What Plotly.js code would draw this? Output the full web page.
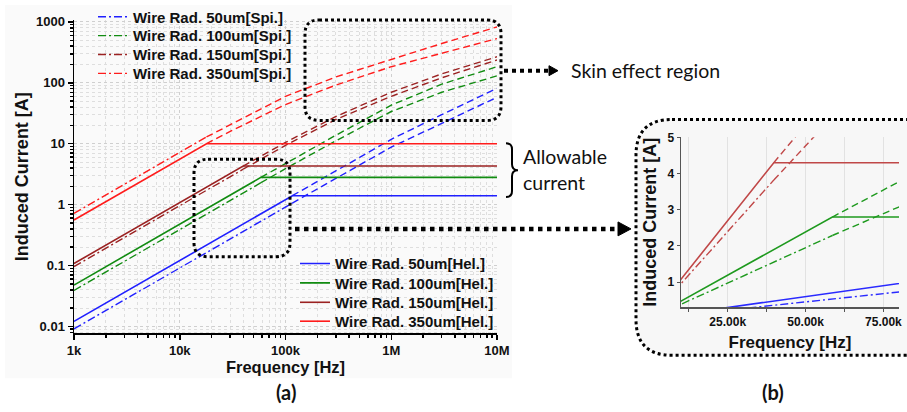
<!DOCTYPE html>
<html>
<head>
<meta charset="utf-8">
<script src="https://cdn.plot.ly/plotly-3.0.1.min.js"></script>
<style>html,body{margin:0;padding:0;background:#fff;}#chart{width:907px;height:412px;}</style>
</head>
<body>
<div id="chart"></div>
<script>
// ---------------- DATA ----------------
const radii = ['50um', '100um', '150um', '350um'];
const fStart = 1e3;            // Hz
const fEnd = 1e7;              // Hz
// induced current at 1 kHz [A]
const helStart = [0.0121, 0.0478, 0.108, 0.56];
const spiStart = [0.0091, 0.039, 0.096, 0.72];
// frequency where the helical current reaches the allowable current
const kneeFreq = [116e3, 58.6e3, 39.8e3, 17.9e3];
const allowable = [1.4, 2.8, 4.3, 10];
const spiAtKnee = [1.06, 2.29, 3.82, 12.9];
// skin-effect region (dashed) samples
const hfFreq = [30e3, 1e5, 3e5, 1e6, 3e6, 1e7];
const hel50HF  = [null, null, 3.6, 11.8, 30, 81];
const hel100HF = [null, 4.75, 13.8, 43, 95, 184];
const hel150HF = [null, 10.5, 28, 70, 140, 268];
const hel350HF = [16, 44, 92, 184, 309, 533];
const spi50HF  = [null, null, 2.7, 8.8, 21.5, 58];
const spi100HF = [null, 3.9, 11.2, 33.8, 70, 130];
const spi150HF = [null, 9.4, 25, 60, 121, 237];
const spi350HF = [20.5, 60, 125, 242, 442, 828];
// tick labels
const xTickVals = [1e3, 1e4, 1e5, 1e6, 1e7];
const xTickText = ['1k', '10k', '100k', '1M', '10M'];
const yTickVals = [0.01, 0.1, 1, 10, 100, 1000];
const yTickText = ['0.01', '0.1', '1', '10', '100', '1000'];
const inXTickVals = [12500, 25000, 37500, 50000, 62500, 75000];
const inXTickText = ['', '25.00k', '', '50.00k', '', '75.00k'];
const inYTickVals = [1, 2, 3, 4, 5];

// ---------------- STYLE ----------------
const W = 907, H = 412;
const colors = ['#2020ff', '#118c11', '#9b2222', '#ff1c1c'];
const inColors = ['#2a2aff', '#1f9a1f', '#c04848', '#ff1c1c'];
const helHF = [hel50HF, hel100HF, hel150HF, hel350HF];
const spiHF = [spi50HF, spi100HF, spi150HF, spi350HF];
const DASH = '7px,4px';
const DASHDOT = '8px,3px,2px,3px';
const FONT = 'Liberation Sans, Arial, sans-serif';
const spiLegY = [15, 34, 53, 72];
const helLegY = [263, 282.5, 302, 321];

function hfPts(arr, i, startVal) {
  const xs = [kneeFreq[i]], ys = [startVal];
  hfFreq.forEach((f, k) => { if (arr[k] !== null && f > kneeFreq[i]) { xs.push(f); ys.push(arr[k]); } });
  return {x: xs, y: ys};
}
const legName = k => (k === 0 ? 'legend' : 'legend' + (k + 1));

const traces = [];
[['x', 'y', colors, true], ['x2', 'y2', inColors, false]].forEach(([xa, ya, cols, main]) => {
  radii.forEach((r, i) => {
    const c = cols[i];
    traces.push({x: [fStart, kneeFreq[i], fEnd], y: [helStart[i], allowable[i], allowable[i]],
      mode: 'lines', line: {color: c, width: 1.6}, xaxis: xa, yaxis: ya,
      name: 'Wire Rad. ' + r + '[Hel.]', legend: legName(4 + i), showlegend: main});
    const h = hfPts(helHF[i], i, allowable[i]);
    traces.push({x: h.x, y: h.y, mode: 'lines', line: {color: c, width: 1.4, dash: DASH},
      xaxis: xa, yaxis: ya, showlegend: false});
    traces.push({x: [fStart, kneeFreq[i]], y: [spiStart[i], spiAtKnee[i]],
      mode: 'lines', line: {color: c, width: 1.4, dash: DASHDOT}, xaxis: xa, yaxis: ya,
      name: 'Wire Rad. ' + r + '[Spi.]', legend: legName(i), showlegend: main});
    const s = hfPts(spiHF[i], i, spiAtKnee[i]);
    traces.push({x: s.x, y: s.y, mode: 'lines', line: {color: c, width: 1.4, dash: DASH},
      xaxis: xa, yaxis: ya, showlegend: false});
  });
});

function P(x, y) { return (x / W).toFixed(5) + ',' + (1 - y / H).toFixed(5); }
function roundRect(x0, y0, x1, y1, r) {
  return 'M' + P(x0 + r, y0) + ' L' + P(x1 - r, y0) + ' Q' + P(x1, y0) + ' ' + P(x1, y0 + r) +
    ' L' + P(x1, y1 - r) + ' Q' + P(x1, y1) + ' ' + P(x1 - r, y1) +
    ' L' + P(x0 + r, y1) + ' Q' + P(x0, y1) + ' ' + P(x0, y1 - r) +
    ' L' + P(x0, y0 + r) + ' Q' + P(x0, y0) + ' ' + P(x0 + r, y0) + ' Z';
}
function seg(x0, y0, x1, y1, w) {
  return {type: 'line', xref: 'paper', yref: 'paper', x0: x0 / W, x1: x1 / W, y0: 1 - y0 / H, y1: 1 - y1 / H,
    line: {color: 'black', width: w, dash: 'dot'}};
}
function tri(x0, y, x1, hh) {
  return {type: 'path', xref: 'paper', yref: 'paper', path: 'M' + P(x0, y - hh) + ' L' + P(x1, y) + ' L' + P(x0, y + hh) + ' Z',
    fillcolor: 'black', line: {color: 'black', width: 1}};
}
const brace = 'M' + P(506, 142) + ' Q' + P(512, 142) + ' ' + P(512, 148) + ' L' + P(512, 163) +
  ' Q' + P(512, 169) + ' ' + P(518, 169) + ' Q' + P(512, 169) + ' ' + P(512, 175) +
  ' L' + P(512, 190) + ' Q' + P(512, 196) + ' ' + P(506, 196);

const shapes = [
  {type: 'rect', xref: 'paper', yref: 'paper', x0: 5 / W, x1: 512 / W, y0: 1 - 378 / H, y1: 1 - 3 / H,
    fillcolor: '#fafafa', line: {width: 0}, layer: 'below'},
  {type: 'path', xref: 'paper', yref: 'paper', path: roundRect(636, 118, 940, 355, 36),
    fillcolor: '#f7f7f7', line: {color: 'black', width: 3, dash: 'dot'}, layer: 'below'},
  {type: 'path', xref: 'paper', yref: 'paper', path: roundRect(305, 18, 501, 119, 14),
    line: {color: 'black', width: 3, dash: 'dot'}},
  {type: 'path', xref: 'paper', yref: 'paper', path: roundRect(194, 158, 290, 256, 14),
    line: {color: 'black', width: 3, dash: 'dot'}},
  seg(504, 69, 549, 69, 4), tri(549, 69, 558, 5),
  seg(295, 228, 618, 228, 4.5), tri(618, 228, 631, 7),
  {type: 'path', xref: 'paper', yref: 'paper', path: brace, line: {color: 'black', width: 2}}
];

const annFont = {family: 'Lato, Open Sans, sans-serif', size: 19.5, color: '#111'};
const annotations = [
  {text: 'Skin effect region', x: 569 / W, y: 1 - 69 / H, xanchor: 'left', yanchor: 'middle', font: annFont},
  {text: 'Allowable', x: 521 / W, y: 1 - 155 / H, xanchor: 'left', yanchor: 'middle', font: annFont},
  {text: 'current', x: 521 / W, y: 1 - 181 / H, xanchor: 'left', yanchor: 'middle', font: annFont},
  {text: '<b>(a)</b>', x: 286 / W, y: 1 - 392 / H, xanchor: 'center', yanchor: 'middle', font: {family: 'Lato, sans-serif', size: 20, color: '#111'}},
  {text: '<b>(b)</b>', x: 773 / W, y: 1 - 392 / H, xanchor: 'center', yanchor: 'middle', font: {family: 'Lato, sans-serif', size: 20, color: '#111'}}
].map(a => Object.assign({xref: 'paper', yref: 'paper', showarrow: false}, a));

const tickFont = {family: FONT, size: 13, color: '#111', weight: 'bold'};
const titleFont = {family: FONT, size: 16.5, color: '#111', weight: 'bold'};
const legFont = {family: FONT, size: 15, color: '#111', weight: 'bold'};

const layout = {
  width: W, height: H, margin: {l: 0, r: 0, t: 0, b: 0},
  paper_bgcolor: 'white', plot_bgcolor: 'rgba(0,0,0,0)',
  showlegend: true,
  xaxis: {type: 'log', range: [3, 7], domain: [74 / W, 497 / W], anchor: 'y',
    tickmode: 'array', tickvals: xTickVals, ticktext: xTickText, tickfont: tickFont,
    showline: true, linecolor: 'black', linewidth: 1.5, ticks: 'outside', ticklen: 5, tickwidth: 1.5, tickcolor: 'black',
    showgrid: true, gridcolor: '#cfcfcf', griddash: 'dot', gridwidth: 1, zeroline: false,
    minor: {dtick: 'D1', ticks: 'outside', ticklen: 3, tickcolor: 'black', showgrid: true, gridcolor: '#dedede', griddash: 'dot'},
    title: {text: 'Frequency [Hz]', font: titleFont, standoff: 0}},
  yaxis: {type: 'log', range: [-2.114, 3.033], domain: [1 - 333 / H, 1 - 18 / H], anchor: 'x',
    tickmode: 'array', tickvals: yTickVals, ticktext: yTickText, tickfont: tickFont,
    showline: true, linecolor: 'black', linewidth: 1.5, ticks: 'outside', ticklen: 5, tickwidth: 1.5, tickcolor: 'black',
    showgrid: true, gridcolor: '#cfcfcf', griddash: 'dot', gridwidth: 1, zeroline: false,
    minor: {dtick: 'D1', ticks: 'outside', ticklen: 3, tickcolor: 'black', showgrid: true, gridcolor: '#dedede', griddash: 'dot'},
    title: {text: 'Induced Current [A]', font: {family: FONT, size: 18, color: '#111', weight: 'bold'}, standoff: 2}},
  xaxis2: {range: [10000, 80000], domain: [681 / W, 899 / W], anchor: 'y2',
    tickmode: 'array', tickvals: inXTickVals, ticktext: inXTickText, tickfont: {family: FONT, size: 12, color: '#111', weight: 'bold'},
    showline: true, linecolor: '#555', linewidth: 1.5, ticks: 'outside', ticklen: 3, tickcolor: '#555',
    showgrid: true, gridcolor: '#e2e2e2', zeroline: false,
    title: {text: 'Frequency [Hz]', font: {family: FONT, size: 17, color: '#111', weight: 'bold'}, standoff: 8}},
  yaxis2: {range: [0.31, 5], domain: [1 - 306.7 / H, 1 - 136 / H], anchor: 'x2',
    tickmode: 'array', tickvals: inYTickVals, tickfont: {family: FONT, size: 12, color: '#111', weight: 'bold'},
    showline: true, linecolor: '#555', linewidth: 1.5, ticks: 'outside', ticklen: 3, tickcolor: '#555',
    showgrid: false, zeroline: false,
    title: {text: 'Induced Current [A]', font: {family: FONT, size: 18, color: '#111', weight: 'bold'}, standoff: 6}},
  shapes: shapes,
  annotations: annotations
};
spiLegY.forEach((y, k) => {
  layout[legName(k)] = {x: 93 / W, y: 1 - y / H, xanchor: 'left', yanchor: 'middle', bgcolor: 'rgba(0,0,0,0)', font: legFont, borderwidth: 0};
});
helLegY.forEach((y, k) => {
  layout[legName(4 + k)] = {x: 295 / W, y: 1 - y / H, xanchor: 'left', yanchor: 'middle', bgcolor: 'rgba(0,0,0,0)', font: legFont, borderwidth: 0};
});

Plotly.newPlot('chart', traces, layout, {displayModeBar: false, staticPlot: true});
</script>
</body>
</html>
